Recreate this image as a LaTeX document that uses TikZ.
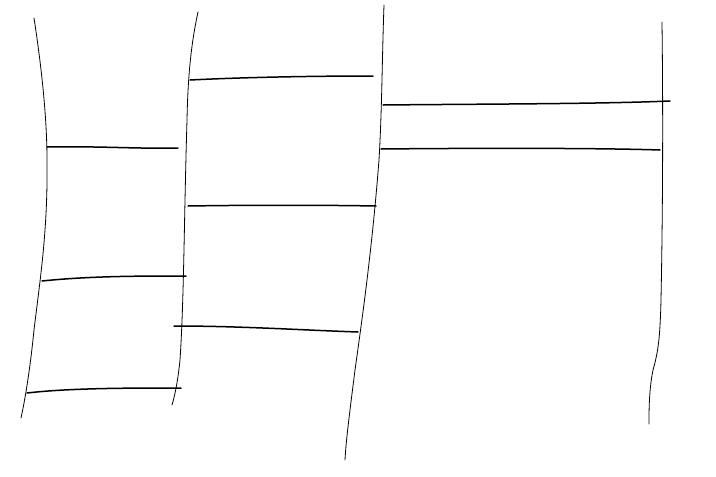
\documentclass[tikz,border=0pt]{standalone}
\tikzset{pole/.style={line width=0.8pt, line cap=round},
         rung/.style={line width=1.5pt, line cap=round}}
\begin{document}
\begin{tikzpicture}[x=1pt, y=-1pt]
  \useasboundingbox (0,0) rectangle (716,477);
  % vertical strokes
  \draw[pole] (34,18) .. controls (42,70) and (47,120) .. (47,160) .. controls (48,230) and (40,280) .. (34,330) .. controls (30,370) and (25,400) .. (21,418);
  \draw[pole] (198,12) .. controls (192,40) and (188,70) .. (187,120) .. controls (184,220) and (184,300) .. (180,360) .. controls (178,380) and (175,395) .. (172,405);
  \draw[pole] (384,5) .. controls (382,60) and (382,110) .. (379,160) .. controls (372,250) and (362,320) .. (355,370) .. controls (350,410) and (346,440) .. (345,460);
  \draw[pole] (662,22) .. controls (663,100) and (663,200) .. (661,300) .. controls (660,340) and (658,352) .. (653,370) .. controls (649,390) and (649,410) .. (649,424);
  % horizontal strokes
  \draw[rung] (47,147) .. controls (100,146) and (140,149) .. (178,148);
  \draw[rung] (42,281) .. controls (90,276) and (140,276) .. (186,276);
  \draw[rung] (27,393) .. controls (70,388) and (130,388) .. (181,388);
  \draw[rung] (190,80) .. controls (250,77) and (320,76) .. (373,76);
  \draw[rung] (188,206) .. controls (250,205) and (320,205) .. (376,206);
  \draw[rung] (174,326) .. controls (240,326) and (300,330) .. (358,332);
  \draw[rung] (383,105) .. controls (480,104) and (600,104) .. (670,101);
  \draw[rung] (381,149) .. controls (480,148) and (600,148) .. (660,150);
\end{tikzpicture}
\end{document}
